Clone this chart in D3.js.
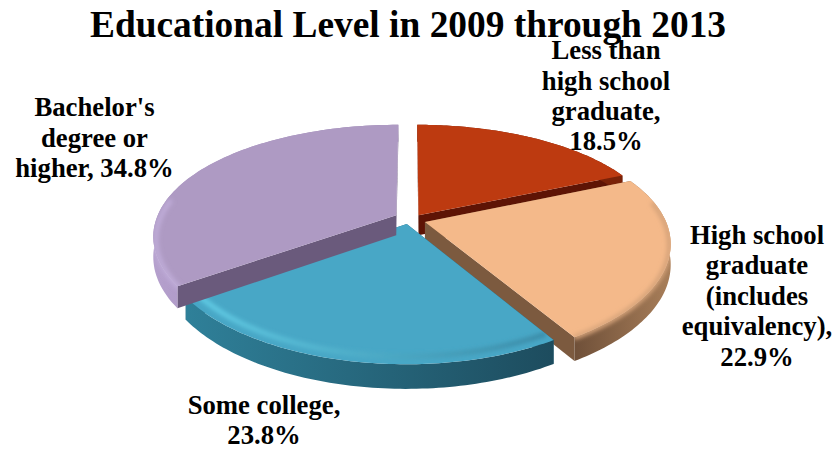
<!DOCTYPE html>
<html>
<head>
<meta charset="utf-8">
<style>
html,body{margin:0;padding:0;background:#fff}
svg{display:block}
text{font-family:"Liberation Serif","Times New Roman",serif;font-weight:bold;fill:#000}
</style>
<script src="https://cdn.jsdelivr.net/npm/d3@7/dist/d3.min.js"></script>
</head>
<body>
<svg id="chart" width="836" height="450"></svg>
<script>
// Chart content
const chartTitle = "Educational Level in 2009 through 2013";
const categories = ["Less than high school graduate", "High school graduate (includes equivalency)", "Some college", "Bachelor's degree or higher"];
const shares = [18.5, 22.9, 23.8, 34.8];
const labelLines = [
  ["Less than", "high school", "graduate,", "18.5%"],
  ["High school", "graduate", "(includes", "equivalency),", "22.9%"],
  ["Some college,", "23.8%"],
  ["Bachelor's", "degree or", "higher, 34.8%"]
];

// Palette per slice
const topColors = ["#bd3a10", "#f4b98a", "#48a7c6", "#ae9ac3"];
const faceColors = ["#5e1405", "#7c5a3f", "#25627a", "#6a5a7c"];
const rimStops = [
  ["#7a2208", "#7a2208"],
  ["#6f5039", "#a87e59"],
  ["#2f8099", "#1d4c5e"],
  ["#b5a0cd", "#8f7ba8"]
];
const bevelStops = [
  null,
  ["#d9a67c", "#d6a379"],
  ["#62cde6", "#3a8aa6"],
  ["#bfacd8", "#bfacd8"]
];
const bevelRadius = [1, 0.995, 0.955, 0.99];
const bevelDrop = [0, 1, 0, 3];
const labelCenters = [[606, 96], [757, 296], [264, 420], [94.5, 138]];

// Projection of the tilted disc: things further back shrink slightly
const centerX = 410, centerY = 219, radiusX = 240, radiusY = 110;
const perspectiveX = 0.18, perspectiveY = 0.2;
const thickness = 20, pullX = 0.065, pullY = 0.05, pullTurn = 0.26;
const project = (x, y, drop = 0) => {
  const sx = 1 / (1 + perspectiveX * y), sy = 1 / (1 + perspectiveY * y);
  return [centerX + x * radiusX * sx, centerY - y * radiusY * sy + drop * sx];
};

const svg = d3.select("#chart");
const defs = svg.append("defs");
defs.append("filter").attr("id", "soft").attr("x", "-20%").attr("y", "-30%").attr("width", "140%").attr("height", "160%")
  .append("feGaussianBlur").attr("stdDeviation", 2.2);

const pie = d3.pie().sort(null).value(d => d);
const slices = pie(shares);
const path = d3.line().curve(d3.curveLinearClosed);
const openPath = d3.line();

slices.forEach((slice, i) => {
  const mid = (slice.startAngle + slice.endAngle) / 2;
  const ox = Math.sin(mid) * pullX, oy = Math.cos(mid + pullTurn) * pullY;
  const angles = d3.range(0, 81).map(t => slice.startAngle + (slice.endAngle - slice.startAngle) * t / 80);
  const arcAt = (r, drop, list = angles) => list.map(a => project(ox + Math.sin(a) * r, oy + Math.cos(a) * r, drop));
  const apex = drop => project(ox, oy, drop);

  const g = svg.append("g").attr("class", "slice").attr("data-category", categories[i]);
  const topArc = arcAt(1, 0), lowArc = arcAt(1, thickness);
  const outline = [apex(0), ...topArc];
  const rimShape = [...topArc, ...lowArc.slice().reverse()];

  const clipId = "clip" + i;
  const clip = defs.append("clipPath").attr("id", clipId);
  clip.append("path").attr("d", path(outline));
  clip.append("path").attr("d", path(rimShape));

  // Straight cut faces
  [topArc[0], topArc[80]].forEach((corner, k) => {
    const low = (k ? lowArc[80] : lowArc[0]);
    g.append("path").attr("d", path([apex(0), corner, low, apex(thickness)])).attr("fill", faceColors[i]);
  });

  // Curved outer wall
  const xs = d3.extent(rimShape, p => p[0]);
  const gradId = "rim" + i;
  const grad = defs.append("linearGradient").attr("id", gradId).attr("gradientUnits", "userSpaceOnUse")
    .attr("x1", xs[0]).attr("x2", xs[1]).attr("y1", 0).attr("y2", 0);
  grad.append("stop").attr("offset", 0).attr("stop-color", rimStops[i][0]);
  grad.append("stop").attr("offset", 1).attr("stop-color", rimStops[i][1]);
  g.append("path").attr("d", path(rimShape)).attr("fill", `url(#${gradId})`);

  // Top surface
  g.append("path").attr("d", path(outline)).attr("fill", topColors[i]);

  // Soft bevel on the part of the rim that faces the viewer
  if (bevelStops[i]) {
    const front = angles.filter(a => Math.cos(a) < 0.2);
    const bevelArc = arcAt(bevelRadius[i], bevelDrop[i], front);
    const bx = d3.extent(bevelArc, p => p[0]);
    const bevelId = "bevel" + i;
    const bevelGrad = defs.append("linearGradient").attr("id", bevelId).attr("gradientUnits", "userSpaceOnUse")
      .attr("x1", bx[0]).attr("x2", bx[1]).attr("y1", 0).attr("y2", 0);
    bevelGrad.append("stop").attr("offset", 0).attr("stop-color", bevelStops[i][0]);
    bevelGrad.append("stop").attr("offset", 1).attr("stop-color", bevelStops[i][1]);
    g.append("g").attr("clip-path", `url(#${clipId})`)
      .append("path").attr("d", openPath(bevelArc)).attr("fill", "none")
      .attr("stroke", `url(#${bevelId})`).attr("stroke-width", 5).attr("filter", "url(#soft)");
  }
});

// Title and slice labels
svg.append("text").attr("x", 408).attr("y", 37).attr("text-anchor", "middle").attr("font-size", 37.4).text(chartTitle);

const labelSize = 26.7, lineGap = 30.4;
labelLines.forEach((lines, i) => {
  const [cx, cy] = labelCenters[i];
  const t = svg.append("text").attr("text-anchor", "middle").attr("font-size", labelSize);
  lines.forEach((line, k) => {
    t.append("tspan").attr("x", cx).attr("y", cy + (k - (lines.length - 1) / 2) * lineGap + labelSize * 0.33).text(line);
  });
});
</script>
</body>
</html>
